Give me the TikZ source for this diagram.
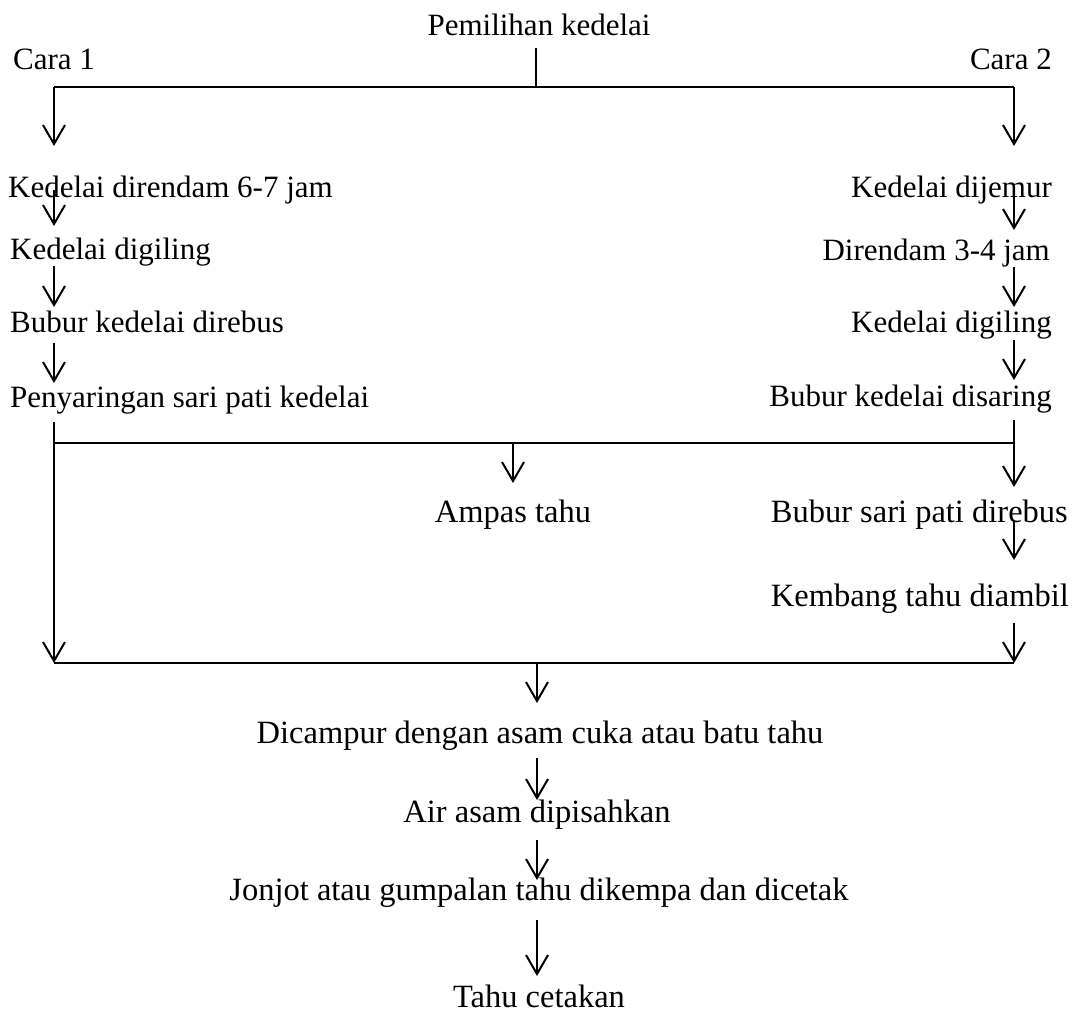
\documentclass[tikz,border=0pt]{standalone}
\usepackage{fontspec}
\setmainfont{Liberation Serif}
\usetikzlibrary{arrows.meta}
\begin{document}
\begin{tikzpicture}[x=1pt,y=-1pt,
  txt/.style={inner sep=0pt, font=\fontsize{31}{31}\selectfont},
  low/.style={font=\fontsize{32.5}{32.5}\selectfont},
  lft/.style={txt, anchor=base west},
  rgt/.style={txt, anchor=base east},
  ctr/.style={txt, anchor=base},
  hline/.style={line width=2.8pt},
  vline/.style={line width=2.1pt},
  arr/.style={line width=2pt, -{Straight Barb[length=19pt,width=22pt]}}]
\fill[white] (0,0) rectangle (1074,1013);
\useasboundingbox (0,0) rectangle (1074,1013);
% trunk positions
\coordinate (top) at (536,87);
\coordinate (tl) at (54,87);
\coordinate (tr) at (1014,87);
\coordinate (ml) at (54,443);
\coordinate (ma) at (513,443);
\coordinate (mr) at (1014,443);
\coordinate (bl) at (54,663);
\coordinate (bc) at (537,663);
\coordinate (br) at (1014,663);
% texts
\node[ctr] (p) at (539,35) {Pemilihan kedelai};
\node[lft] (c1) at (13,69) {Cara 1};
\node[rgt] (c2) at (1052,69) {Cara 2};
\node[lft] (k1) at (8,197) {Kedelai direndam 6-7 jam};
\node[lft] (k2) at (10,259) {Kedelai digiling};
\node[lft] (k3) at (10,332) {Bubur kedelai direbus};
\node[lft] (k4) at (10,407) {Penyaringan sari pati kedelai};
\node[rgt] (r1) at (1052,197) {Kedelai dijemur};
\node[rgt] (r2) at (1050,260) {Direndam 3-4 jam};
\node[rgt] (r3) at (1052,332) {Kedelai digiling};
\node[rgt] (r4) at (1052,406) {Bubur kedelai disaring};
\node[ctr,low] (amp) at (513,522) {Ampas tahu};
\node[rgt,low] (bs) at (1068,522) {Bubur sari pati direbus};
\node[rgt,low] (kb) at (1069,606) {Kembang tahu diambil};
\node[ctr,low] (dc) at (540,743) {Dicampur dengan asam cuka atau batu tahu};
\node[ctr,low] (aa) at (537,822) {Air asam dipisahkan};
\node[ctr,low] (jj) at (539,900) {Jonjot atau gumpalan tahu dikempa dan dicetak};
\node[ctr,low] (tc) at (539,1007) {Tahu cetakan};
% top split
\draw[vline] ([yshift=-13pt]p.base -| top) -- (top);
\draw[hline] (tl) -- (tr);
\draw[arr] (tl) -- ([yshift=51pt]k1.base -| tl);
\draw[arr] (tr) -- ([yshift=51pt]r1.base -| tr);
% left column
\draw[arr] ([yshift=7pt]k1.base -| tl) -- ([yshift=33pt]k2.base -| tl);
\draw[arr] ([yshift=-7pt]k2.base -| tl) -- ([yshift=25pt]k3.base -| tl);
\draw[arr] ([yshift=-11pt]k3.base -| tl) -- ([yshift=24pt]k4.base -| tl);
% right column
\draw[arr] ([yshift=7pt]r1.base -| tr) -- ([yshift=30pt]r2.base -| tr);
\draw[arr] ([yshift=-7pt]r2.base -| tr) -- ([yshift=25pt]r3.base -| tr);
\draw[arr] ([yshift=-8pt]r3.base -| tr) -- ([yshift=26pt]r4.base -| tr);
% middle split
\draw[hline] (ml) -- (mr);
\draw[arr] ([yshift=-15pt]k4.base -| ml) -- (bl);
\draw[arr] ([yshift=-14pt]r4.base -| mr) -- ([yshift=35pt]bs.base -| mr);
\draw[arr] (ma) -- ([yshift=39pt]amp.base);
\draw[arr] ([yshift=2pt]bs.base -| mr) -- ([yshift=46pt]kb.base -| mr);
\draw[arr] ([yshift=-17pt]kb.base -| br) -- (br);
% bottom merge
\draw[hline] (bl) -- (br);
\draw[arr] (bc) -- ([yshift=40pt]dc.base -| bc);
\draw[arr] ([yshift=-15pt]dc.base -| bc) -- ([yshift=22pt]aa.base -| bc);
\draw[arr] ([yshift=-18pt]aa.base -| bc) -- ([yshift=20pt]jj.base -| bc);
\draw[arr] ([yshift=-20pt]jj.base -| bc) -- ([yshift=31pt]tc.base -| bc);
\end{tikzpicture}
\end{document}
